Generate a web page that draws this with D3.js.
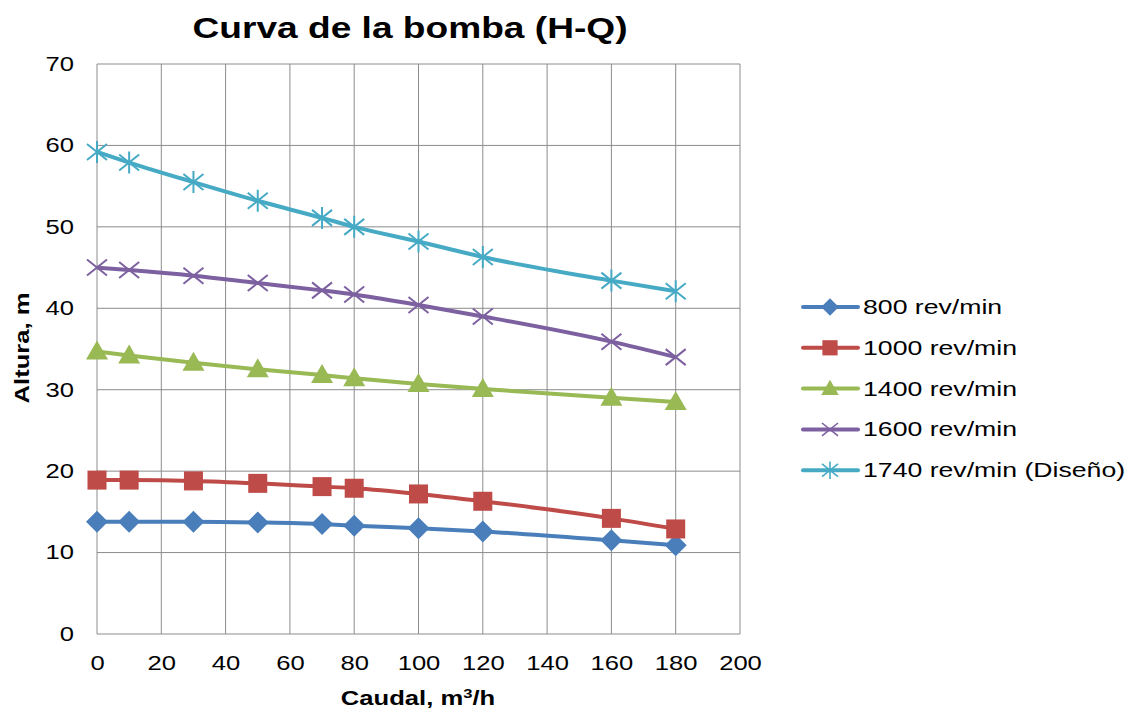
<!DOCTYPE html>
<html lang="es">
<head>
<meta charset="UTF-8">
<title>Curva de la bomba (H-Q)</title>
<script src="https://d3js.org/d3.v7.min.js"></script>
<style>
  body { margin: 0; background: #fff; font-family: "Liberation Sans", Arial, sans-serif; }
  .grid line { stroke: #8c8c8c; stroke-width: 1; }
  .tick text { font-size: 20px; fill: #000; }
</style>
</head>
<body>
<div id="chart"></div>
<script>
// caudal (m3/h)
var caudal = [0, 10, 30, 50, 70, 80, 100, 120, 160, 180];

// altura (m) per speed
var h800  = [13.8, 13.8, 13.8, 13.7, 13.5, 13.3, 13.0, 12.6, 11.5, 10.9];
var h1000 = [18.9, 18.9, 18.8, 18.5, 18.1, 17.9, 17.2, 16.3, 14.2, 12.9];
var h1400 = [34.7, 34.2, 33.3, 32.5, 31.8, 31.4, 30.7, 30.1, 29.0, 28.5];
var h1600 = [45.0, 44.7, 44.0, 43.1, 42.2, 41.7, 40.4, 39.0, 35.9, 34.0];
var h1740 = [59.2, 57.9, 55.5, 53.2, 51.1, 50.0, 48.2, 46.3, 43.4, 42.1];

var seriesNames = ["800 rev/min", "1000 rev/min", "1400 rev/min", "1600 rev/min", "1740 rev/min (Diseño)"];
var xTicks = [0, 20, 40, 60, 80, 100, 120, 140, 160, 180, 200];
var yTicks = [0, 10, 20, 30, 40, 50, 60, 70];

var series = [
  {name: seriesNames[0], values: h800,  color: "#4a7ebb", marker: "diamond"},
  {name: seriesNames[1], values: h1000, color: "#be4b48", marker: "square"},
  {name: seriesNames[2], values: h1400, color: "#98b954", marker: "triangle"},
  {name: seriesNames[3], values: h1600, color: "#7d60a0", marker: "cross"},
  {name: seriesNames[4], values: h1740, color: "#46aac5", marker: "star"}
];

// text in the picture is drawn wider than Liberation Sans
var SX = 1.28;

var W = 1131, H = 712;
var margin = {top: 64, left: 97, right: 391, bottom: 78};
var width = W - margin.left - margin.right,
    height = H - margin.top - margin.bottom;

var svg = d3.select("#chart").append("svg")
    .attr("width", W).attr("height", H);

var g = svg.append("g")
    .attr("transform", "translate(" + margin.left + "," + margin.top + ")");

var x = d3.scaleLinear().domain([0, 200]).range([0, width]);
var y = d3.scaleLinear().domain([0, 70]).range([height, 0]);

// gridlines
g.append("g").attr("class", "grid")
  .selectAll("line.v").data(xTicks).enter().append("line")
    .attr("x1", d => x(d)).attr("x2", d => x(d))
    .attr("y1", 0).attr("y2", height);
g.append("g").attr("class", "grid")
  .selectAll("line.h").data(yTicks).enter().append("line")
    .attr("x1", 0).attr("x2", width)
    .attr("y1", d => y(d)).attr("y2", d => y(d));

// axes (labels only)
var xAxis = g.append("g")
  .attr("transform", "translate(0," + height + ")")
  .call(d3.axisBottom(x).tickValues(xTicks).tickSize(0).tickPadding(22));
xAxis.select(".domain").remove();
xAxis.selectAll(".tick text").attr("transform", "scale(" + SX + ",1)");

var yAxis = g.append("g")
  .call(d3.axisLeft(y).tickValues(yTicks).tickSize(0));
yAxis.select(".domain").remove();
yAxis.selectAll(".tick text")
  .attr("x", 0)
  .attr("transform", "translate(-23,0) scale(" + SX + ",1)");

// marker drawing
function drawMarker(sel, type, color) {
  if (type === "diamond") {
    sel.append("path").attr("d", "M0,-11L11,0L0,11L-11,0Z").attr("fill", color);
  } else if (type === "square") {
    sel.append("rect").attr("x", -9.5).attr("y", -9.5).attr("width", 19).attr("height", 19).attr("fill", color);
  } else if (type === "triangle") {
    sel.append("path").attr("d", "M0,-11L11,8L-11,8Z").attr("fill", color);
  } else if (type === "cross") {
    sel.append("path").attr("d", "M-10,-8L10,8M-10,8L10,-8")
      .attr("stroke", color).attr("stroke-width", 2).attr("fill", "none");
  } else if (type === "star") {
    sel.append("path").attr("d", "M-10,-8L10,8M-10,8L10,-8M0,-11L0,11")
      .attr("stroke", color).attr("stroke-width", 2).attr("fill", "none");
  }
}

var line = d3.line()
  .x(function(d, i) { return x(caudal[i]); })
  .y(function(d) { return y(d); })
  .curve(d3.curveMonotoneX);

series.forEach(function(s) {
  g.append("path")
    .datum(s.values)
    .attr("fill", "none")
    .attr("stroke", s.color)
    .attr("stroke-width", 4)
    .attr("d", line);

  g.selectAll(null)
    .data(s.values).enter().append("g")
    .attr("transform", function(d, i) { return "translate(" + x(caudal[i]) + "," + y(d) + ")"; })
    .each(function() { drawMarker(d3.select(this), s.marker, s.color); });
});

// title
svg.append("text")
  .attr("transform", "translate(410,38) scale(" + SX + ",1)")
  .attr("text-anchor", "middle")
  .style("font-size", "29px").style("font-weight", "bold")
  .text("Curva de la bomba (H-Q)");

// axis titles
svg.append("text")
  .attr("transform", "translate(418,705) scale(" + SX + ",1)")
  .attr("text-anchor", "middle")
  .style("font-size", "20px").style("font-weight", "bold")
  .html("Caudal, m<tspan baseline-shift='super' font-size='13px'>3</tspan>/h");

svg.append("text")
  .attr("transform", "translate(29,348) rotate(-90) scale(" + SX + ",1)")
  .attr("text-anchor", "middle")
  .style("font-size", "20px").style("font-weight", "bold")
  .text("Altura, m");

// legend
var legend = svg.append("g").attr("transform", "translate(803,307)");
series.forEach(function(s, i) {
  var row = legend.append("g").attr("transform", "translate(0," + (i * 40.8) + ")");
  row.append("line").attr("x1", 0).attr("x2", 55).attr("y1", 0).attr("y2", 0)
    .attr("stroke", s.color).attr("stroke-width", 4).attr("stroke-linecap", "round");
  var m = row.append("g").attr("transform", "translate(27,0) scale(0.8)");
  drawMarker(m, s.marker, s.color);
  row.append("text")
    .attr("transform", "translate(60,7) scale(1.3,1)")
    .style("font-size", "20.5px").text(s.name);
});
</script>
</body>
</html>
